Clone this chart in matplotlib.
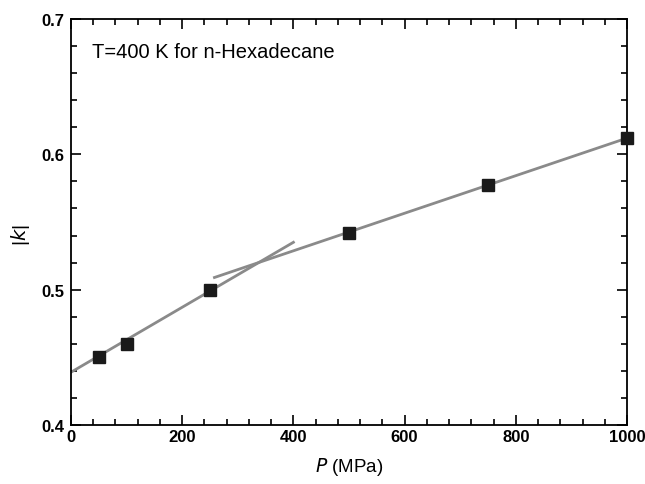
import matplotlib
matplotlib.use('Agg')
import matplotlib.pyplot as plt
from matplotlib.ticker import MultipleLocator

plt.rcParams['font.family'] = ['Liberation Sans', 'DejaVu Sans']

# measured points
pressure = [50, 100, 250, 500, 750, 1000]
k_abs = [0.450, 0.460, 0.500, 0.542, 0.577, 0.612]

# two straight-line fits
fit1_p = [0, 400]
fit1_k = [0.439, 0.535]
fit2_p = [258, 1000]
fit2_k = [0.509, 0.612]

fig = plt.figure(figsize=(6.45, 4.85), dpi=100)
ax = fig.add_axes([71 / 645, 1 - 426 / 485, 556 / 645, 406 / 485])

ax.plot(fit1_p, fit1_k, color='#8a8a8a', lw=2)
ax.plot(fit2_p, fit2_k, color='#8a8a8a', lw=2)
ax.plot(pressure, k_abs, 's', color='#1a1a1a', ms=8.5, clip_on=False, zorder=3)

ax.set_xlim(0, 1000)
ax.set_ylim(0.4, 0.7)
ax.xaxis.set_major_locator(MultipleLocator(200))
ax.xaxis.set_minor_locator(MultipleLocator(40))
ax.yaxis.set_major_locator(MultipleLocator(0.1))
ax.yaxis.set_minor_locator(MultipleLocator(0.02))
ax.tick_params(which='both', direction='in', top=True, right=True, width=1.2)
ax.tick_params(which='major', length=7, labelsize=12)
ax.tick_params(axis='x', which='major', pad=3)
ax.tick_params(axis='y', which='major', pad=5)
ax.tick_params(which='minor', length=4)
for lab in ax.get_xticklabels() + ax.get_yticklabels():
    lab.set_fontweight('bold')
for s in ax.spines.values():
    s.set_linewidth(1.3)

ax.set_xlabel(r'$\it{P}$ (MPa)', fontsize=13.5, labelpad=8)
ax.set_ylabel(r'|$\it{k}$|', fontsize=14)
ax.yaxis.set_label_coords(-0.07, 0.47)
ax.text(0.038, 0.92, 'T=400 K for n-Hexadecane', transform=ax.transAxes,
        fontsize=14.5, va='center')

fig.savefig('out.png', dpi=100)
